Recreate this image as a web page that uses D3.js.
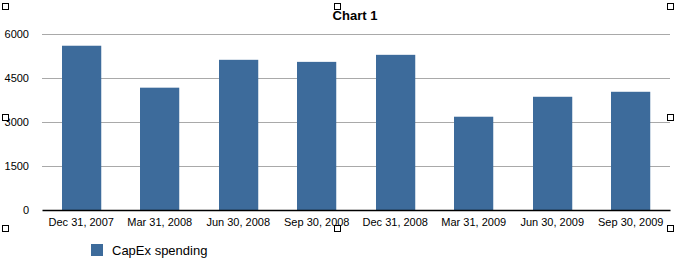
<!DOCTYPE html>
<html>
<head>
<meta charset="utf-8">
<script src="https://cdn.jsdelivr.net/npm/d3@7"></script>
<style>
  body { margin: 0; background: #fff; }
  text { font-family: "Liberation Sans", Arial, sans-serif; fill: #000; }
</style>
</head>
<body>
<div id="chart"></div>
<script>
// data
var quarters = ["Dec 31, 2007", "Mar 31, 2008", "Jun 30, 2008", "Sep 30, 2008",
                "Dec 31, 2008", "Mar 31, 2009", "Jun 30, 2009", "Sep 30, 2009"];
var capex = [5600, 4170, 5120, 5050, 5290, 3180, 3860, 4030];
var yTicks = [0, 1500, 3000, 4500, 6000];
var seriesName = "CapEx spending";

var svgWidth = 680, svgHeight = 267;
var margin = { top: 34, right: 10, bottom: 57, left: 42 };
var chartWidth = svgWidth - margin.left - margin.right;
var chartHeight = svgHeight - margin.top - margin.bottom;
var barColor = "#3d6b9b";

var svg = d3.select("#chart").append("svg")
  .attr("width", svgWidth)
  .attr("height", svgHeight);

var chartGroup = svg.append("g")
  .attr("transform", `translate(${margin.left}, ${margin.top})`);

var xScale = d3.scaleBand()
  .domain(quarters)
  .range([0, chartWidth])
  .paddingInner(0.5)
  .paddingOuter(0.25);

var yScale = d3.scaleLinear()
  .domain([0, 6000])
  .range([chartHeight, 0]);

// gridlines
chartGroup.append("g")
  .selectAll("line")
  .data(yTicks.filter(d => d > 0))
  .enter()
  .append("line")
  .attr("x1", 0)
  .attr("x2", chartWidth)
  .attr("y1", d => Math.round(yScale(d)) + 0.5)
  .attr("y2", d => Math.round(yScale(d)) + 0.5)
  .attr("stroke", "#a9a9a9")
  .attr("stroke-width", 1);

// y axis labels
var yAxis = d3.axisLeft(yScale).tickValues(yTicks).tickFormat(d3.format("d"))
  .tickSize(0).tickPadding(13);
chartGroup.append("g")
  .call(yAxis)
  .call(g => g.select(".domain").remove())
  .selectAll("text")
  .attr("font-size", "11px")
  .attr("font-family", "Liberation Sans, Arial, sans-serif");

// bars
chartGroup.selectAll("rect.bar")
  .data(capex)
  .enter()
  .append("rect")
  .attr("class", "bar")
  .attr("x", (d, i) => Math.round(xScale(quarters[i])))
  .attr("y", d => yScale(d))
  .attr("width", xScale.bandwidth())
  .attr("height", d => chartHeight - yScale(d))
  .attr("fill", barColor);

// x axis
var xAxis = d3.axisBottom(xScale).tickSize(0).tickPadding(8);
chartGroup.append("g")
  .attr("transform", `translate(0, ${chartHeight})`)
  .call(xAxis)
  .call(g => g.select(".domain").attr("stroke", "#000").attr("stroke-width", 1.3))
  .selectAll("text")
  .attr("font-size", "11px")
  .attr("font-family", "Liberation Sans, Arial, sans-serif");

// title
svg.append("text")
  .attr("x", 355)
  .attr("y", 20)
  .attr("text-anchor", "middle")
  .attr("font-size", "13px")
  .attr("font-weight", "bold")
  .text("Chart 1");

// legend
svg.append("rect")
  .attr("x", 91)
  .attr("y", 244)
  .attr("width", 12)
  .attr("height", 12)
  .attr("fill", barColor);

svg.append("text")
  .attr("x", 112)
  .attr("y", 255)
  .attr("font-size", "13px")
  .text(seriesName);

// selection handles
var handleX = [5, 337, 670];
var handleY = [6, 117, 228];
handleX.forEach(hx => {
  handleY.forEach(hy => {
    if (hx === 337 && hy === 117) return;
    svg.append("rect")
      .attr("x", hx - 2.5)
      .attr("y", hy - 2.5)
      .attr("width", 6)
      .attr("height", 6)
      .attr("fill", "#fff")
      .attr("stroke", "#000")
      .attr("stroke-width", 1);
  });
});
</script>
</body>
</html>
